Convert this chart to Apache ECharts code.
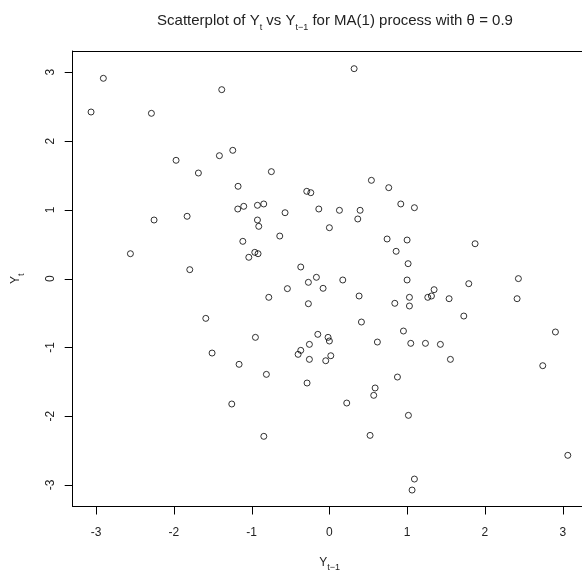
<!DOCTYPE html>
<html lang="en">
<head>
    <meta charset="UTF-8">
    <title>MA(1) lag scatterplot</title>
    <script src="https://cdn.jsdelivr.net/npm/echarts@6/dist/echarts.min.js"></script>
    <style>
        html, body { margin: 0; padding: 0; background: #fff; }
    </style>
</head>
<body>
<div id="main" style="width: 582px;height:574px;"></div>
<script type="text/javascript">
    // Y(t-1) and Y(t) values
    var yLag = [
        -2.906, -3.064, -2.288, -1.384, -1.971, -1.414, -1.242, -1.684, -0.746, -1.174,
        -0.291, -0.239, -0.136, -1.178, -1.101, -0.925, -0.844, -0.570, -2.254, -1.829,
        -0.925, -0.908, -1.113, -0.638, -2.558, -0.959, -0.917, -1.036, -0.368, -1.795,
        0.318, 0.540, 0.763, 0.918, 1.093, 0.129, 0.395, 0.365, 0.000, 0.742,
        0.999, 0.858, 1.012, 1.873, -0.167, -0.270, -0.540, -0.779, -0.270, -1.589,
        -0.951, -0.149, -0.257, -0.368, -0.402, -0.257, -1.508, -1.161, -0.810, -0.287,
        -1.255, -0.843, 0.172, -0.081, 0.999, 1.792, 2.430, 2.413, 1.346, 1.312,
        1.265, 0.382, 1.029, 1.029, 0.841, 1.539, 1.728, 0.412, 0.952, -0.017,
        0.000, 0.617, 1.046, 1.235, 1.427, 2.906, 2.743, 1.556, 0.018, -0.047,
        0.875, 0.588, 0.570, 0.223, 1.016, 0.523, 3.065, 1.093, 1.063
    ];
    var yCur = [
        2.912, 2.422, 2.403, 2.747, 1.720, 1.787, 1.865, 1.535, 1.555, 1.342,
        1.269, 1.249, 1.012, 1.012, 1.051, 1.066, 1.085, 0.958, 0.852, 0.906,
        0.852, 0.760, 0.542, 0.619, 0.362, 0.382, 0.362, 0.310, 0.169, 0.130,
        3.052, 1.429, 1.322, 1.085, 1.031, 0.993, 0.993, 0.867, 0.740, 0.576,
        0.561, 0.397, 0.217, 0.507, 0.019, -0.054, -0.146, -0.272, -0.365, -0.578,
        -0.854, -0.810, -0.956, -1.043, -1.101, -1.174, -1.082, -1.246, -1.392, -1.518,
        -1.823, -2.293, -0.020, -0.141, -0.020, -0.074, 0.000, -0.292, -0.161, -0.253,
        -0.272, -0.253, -0.272, -0.398, -0.359, -0.292, -0.544, -0.631, -0.762, -0.854,
        -0.907, -0.922, -0.941, -0.941, -0.956, -0.776, -1.266, -1.174, -1.121, -1.194,
        -1.431, -1.590, -1.697, -1.809, -1.988, -2.279, -2.569, -2.914, -3.074
    ];
    var tickValues = [-3, -2, -1, 0, 1, 2, 3];

    var points = yLag.map(function (v, i) { return [v, yCur[i]]; });

    var font = 'Liberation Sans, Arial, sans-serif';
    var subStyle = { fontSize: 9, fontFamily: font, color: '#222', verticalAlign: 'bottom', padding: [0, 0, -4, 0] };
    var axisLineStyle = { show: true, onZero: false, lineStyle: { color: '#000', width: 1 } };
    var xRange = { min: -3.3, max: 3.308 };
    var yRange = { min: -3.313, max: 3.309 };
    var tickLen = 8;

    var myChart = echarts.init(document.getElementById('main'));
    myChart.setOption({
        animation: false,
        title: {
            text: 'Scatterplot of Y{s|t} vs Y{s|t\u22121} for MA(1) process with \u03b8 = 0.9',
            left: 330,
            top: 8,
            textAlign: 'center',
            textStyle: {
                fontSize: 15,
                fontWeight: 'normal',
                fontFamily: font,
                color: '#222',
                rich: { s: subStyle }
            }
        },
        grid: {
            left: 72.7,
            top: 51,
            width: 514,
            height: 455.5,
            outerBoundsMode: 'none',
            containLabel: false,
            show: false
        },
        xAxis: [{
            type: 'value',
            position: 'bottom',
            min: xRange.min,
            max: xRange.max,
            splitLine: { show: false },
            axisLine: axisLineStyle,
            axisTick: { show: false },
            axisLabel: { customValues: tickValues, margin: 20, fontSize: 12, fontFamily: font, color: '#222' },
            name: 'Y{s|t\u22121}',
            nameLocation: 'middle',
            nameGap: 50,
            nameTextStyle: { fontSize: 12, fontFamily: font, color: '#222', rich: { s: subStyle } }
        }, {
            // top edge of the box
            type: 'value',
            position: 'top',
            min: xRange.min,
            max: xRange.max,
            splitLine: { show: false },
            axisLine: axisLineStyle,
            axisTick: { show: false },
            axisLabel: { show: false }
        }],
        yAxis: {
            type: 'value',
            position: 'left',
            min: yRange.min,
            max: yRange.max,
            splitLine: { show: false },
            axisLine: axisLineStyle,
            axisTick: { show: false },
            axisLabel: { customValues: tickValues, rotate: 90, margin: 16, fontSize: 12, fontFamily: font, color: '#222' },
            name: 'Y{s|t}',
            nameLocation: 'middle',
            nameRotate: 90,
            nameGap: 51,
            nameTextStyle: { fontSize: 12, fontFamily: font, color: '#222', rich: { s: subStyle } }
        },
        series: [{
            type: 'scatter',
            xAxisIndex: 0,
            yAxisIndex: 0,
            data: points,
            symbol: 'circle',
            symbolSize: 6,
            itemStyle: { color: 'rgba(0,0,0,0)', borderColor: '#000', borderWidth: 1 }
        }]
    });

    // outward tick marks on the box edges, placed through the axis scales
    var crisp = function (v) { return Math.round(v) + 0.5; };
    var bottomY = myChart.convertToPixel({ yAxisIndex: 0 }, yRange.min);
    var leftX = myChart.convertToPixel({ xAxisIndex: 0 }, xRange.min);
    var ticks = [];
    tickValues.forEach(function (v) {
        var px = crisp(myChart.convertToPixel({ xAxisIndex: 0 }, v));
        var py = crisp(myChart.convertToPixel({ yAxisIndex: 0 }, v));
        ticks.push({
            type: 'line', silent: true,
            shape: { x1: px, y1: bottomY, x2: px, y2: bottomY + tickLen },
            style: { stroke: '#000', lineWidth: 1 }
        });
        ticks.push({
            type: 'line', silent: true,
            shape: { x1: leftX - tickLen, y1: py, x2: leftX, y2: py },
            style: { stroke: '#000', lineWidth: 1 }
        });
    });
    myChart.setOption({ graphic: ticks });
</script>
</body>
</html>
